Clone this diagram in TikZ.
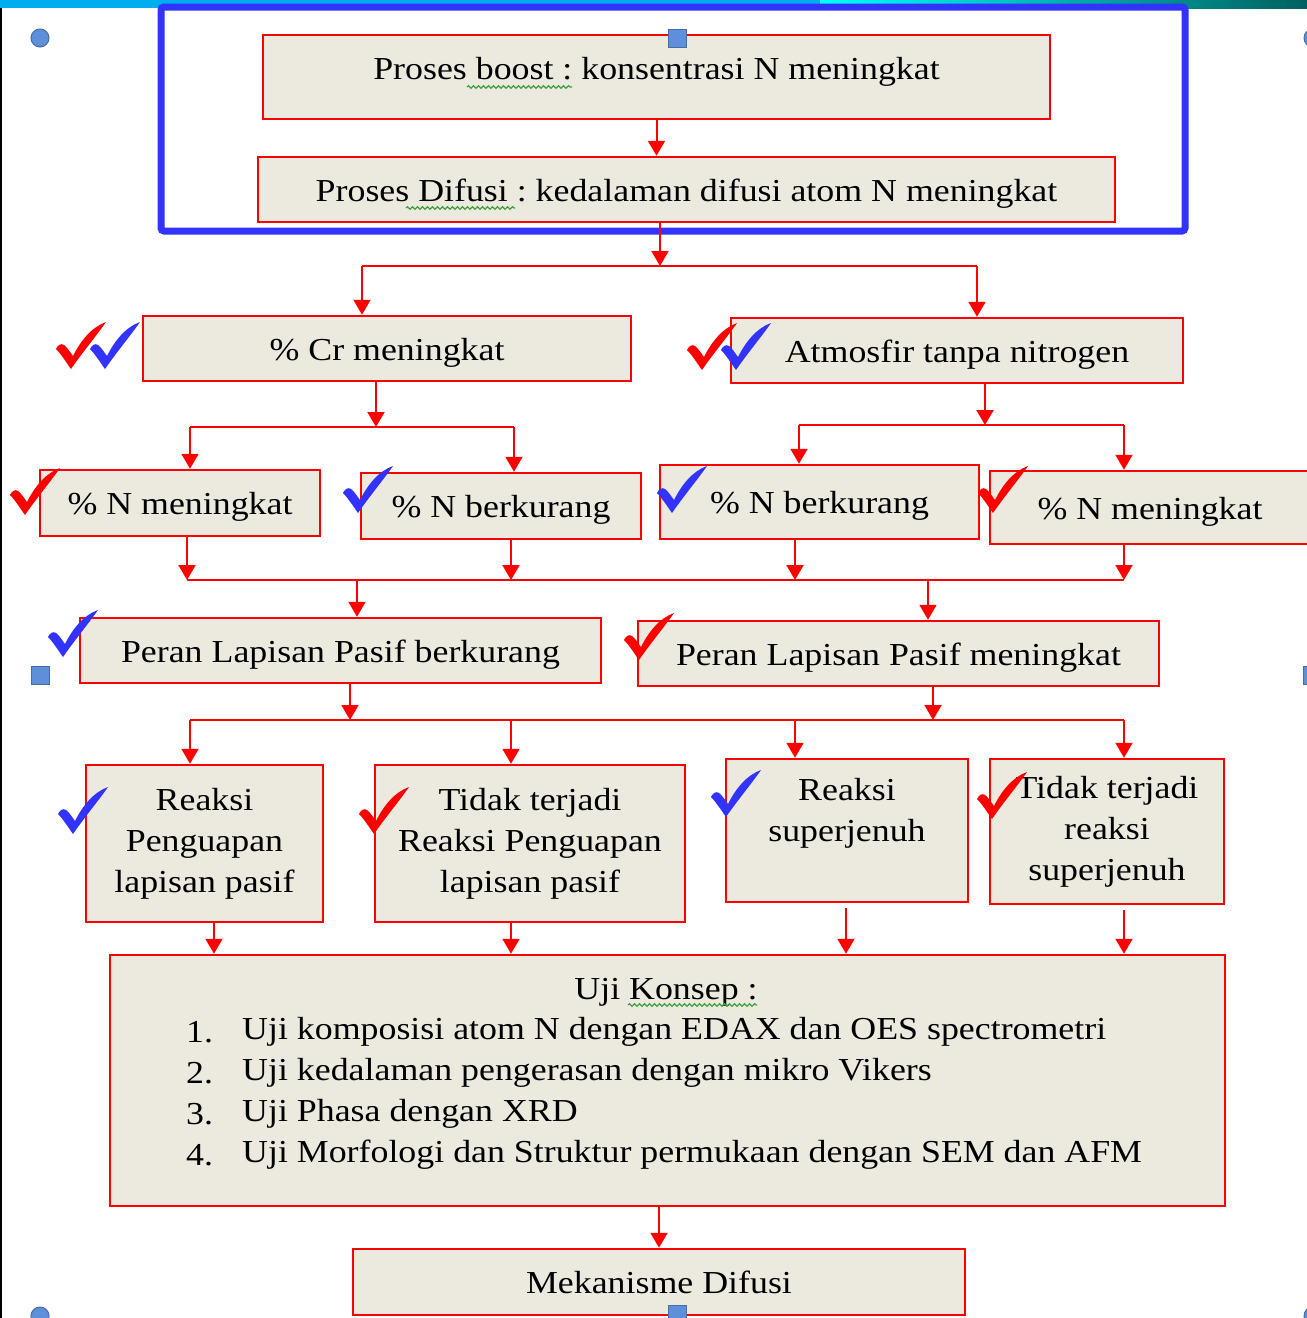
\documentclass[tikz,border=0pt]{standalone}
\usepackage{fontspec}
\setmainfont[FakeStretch=1.12]{Liberation Serif}
\usepackage{tikz}
\usetikzlibrary{arrows.meta, positioning, decorations.pathmorphing}
\frenchspacing

\definecolor{krem}{RGB}{236,233,223}
\definecolor{birubingkai}{RGB}{51,51,255}
\definecolor{birucentang}{RGB}{51,51,255}
\definecolor{pegangan}{RGB}{93,143,219}
\definecolor{pegangantepi}{RGB}{72,108,165}
\definecolor{hijaueja}{RGB}{60,160,60}
\definecolor{tosca}{RGB}{0,96,96}

% tanda centang: kiri-atas (#1,#2), warna #3
\newcommand{\centang}[3]{%
  \fill[#3, shift={(#1,#2)}] (0,27) .. controls (2,23) and (5,21) .. (8,23)
    .. controls (11,25) and (14,30) .. (17,34)
    .. controls (25,18) and (36,5) .. (50,0)
    .. controls (41,13) and (26,31) .. (15,47)
    .. controls (10,40) and (5,32) .. (0,27) -- cycle;}

\begin{document}
\begin{tikzpicture}[x=1pt, y=-1pt,
	kotak/.style={draw=red, line width=2.5pt, fill=krem, inner sep=0pt, align=center,
		font=\fontsize{32}{41}\selectfont},
	satubaris/.style={kotak, text height=30pt, text depth=7pt},
	panah/.style={draw=red, line width=2pt, -{Triangle[width=17pt,length=15pt]}},
	garis/.style={draw=red, line width=2pt},
	teks/.style={inner sep=0pt, font=\fontsize{32}{41}\selectfont},
	eja/.style={hijaueja, line width=1.2pt, decorate, decoration={snake, segment length=5pt, amplitude=1.3pt}}]
	\useasboundingbox (0,0) rectangle (1307,1318);
	\fill[white] (0,0) rectangle (1307,1318);
	
	% Tepi jendela
	\fill[cyan] (0,0) rectangle (820,8);
	\shade[left color=cyan, right color=tosca] (820,0) rectangle (1307,8);
	\fill[black] (0,8) rectangle (2,1318);
	
	% Bingkai biru
	\draw[birubingkai, line width=7pt, rounded corners=3pt] (161,7) rectangle (1185,231);
	
	% Kotak-kotak
	\node[satubaris, minimum width=787pt, minimum height=84pt] (boost) at (656.5,77)
		{\raisebox{9pt}[\height][\depth]{Proses boost : konsentrasi N meningkat}};
	\node[satubaris, minimum width=857pt, minimum height=65pt] (difusi) at (686.5,189.5)
		{Proses Difusi : kedalaman difusi atom N meningkat};
	\node[satubaris, minimum width=488pt, minimum height=65pt] (cr) at (387,348.5) {\% Cr meningkat};
	\node[satubaris, minimum width=452pt, minimum height=65pt] (atmosfir) at (957,350.5) {Atmosfir tanpa nitrogen};
	\node[satubaris, minimum width=280pt, minimum height=66pt] (nnaik1) at (180,503) {\% N meningkat};
	\node[satubaris, minimum width=280pt, minimum height=66pt] (nturun1) at (501,506) {\% N berkurang};
	\node[satubaris, minimum width=319pt, minimum height=74pt] (nturun2) at (819.5,502) {\% N berkurang};
	\node[satubaris, minimum width=320pt, minimum height=73pt] (nnaik2) at (1150,507.5) {\% N meningkat};
	\node[satubaris, minimum width=521pt, minimum height=65pt] (pasifturun) at (340.5,650.5) {Peran Lapisan Pasif berkurang};
	\node[satubaris, minimum width=521pt, minimum height=65pt] (pasifnaik) at (898.5,653.5) {Peran Lapisan Pasif meningkat};
	\node[kotak, minimum width=237pt, minimum height=157pt] (penguapan) at (204.5,843.5)
		{Reaksi\\Penguapan\\lapisan pasif};
	\node[kotak, minimum width=310pt, minimum height=157pt] (tanpauap) at (530,843.5)
		{Tidak terjadi\\Reaksi Penguapan\\lapisan pasif};
	\node[kotak, minimum width=242pt, minimum height=143pt] (jenuh) at (847,830.5)
		{Reaksi\\superjenuh\\~};
	\node[kotak, minimum width=234pt, minimum height=145pt] (tanpajenuh) at (1107,831.5)
		{Tidak terjadi\\reaksi\\superjenuh};
	\node[kotak, minimum width=1115pt, minimum height=251pt] (uji) at (667.5,1080.5) {};
	\node[satubaris, minimum width=612pt, minimum height=66pt] (mekanisme) at (659,1282) {Mekanisme Difusi};
	
	% Isi uji konsep
	\node[teks] (judul) at (666,992) {Uji Konsep :};
	\foreach \nomor/\isi in {1/Uji komposisi atom N dengan EDAX dan OES spectrometri,
		2/Uji kedalaman pengerasan dengan mikro Vikers,
		3/Uji Phasa dengan XRD,
		4/Uji Morfologi dan Struktur permukaan dengan SEM dan AFM} {
		\pgfmathsetmacro{\ypos}{991+41*\nomor}
		\node[teks, anchor=west] (no\nomor) at (186,\ypos) {\nomor.};
		\node[teks, anchor=west] (uji\nomor) at (242,\ypos) {\isi};
	}
	
	% Garis ejaan
	\draw[eja] (467,87) -- (572,87);
	\draw[eja] (406,208) -- (515,208);
	\draw[eja] (628,1005) -- (757,1005);
	
	% Titik-titik cabang
	\coordinate (c1) at (660,266);
	\coordinate (c1l) at (362,266);
	\coordinate (c1r) at (977,266);
	\coordinate (c2) at (376,427);
	\coordinate (c2l) at (190,427);
	\coordinate (c2r) at (514,427);
	\coordinate (c3) at (985,425);
	\coordinate (c3l) at (799,425);
	\coordinate (c3r) at (1124,425);
	\coordinate (e1) at (187,580);
	\coordinate (e2) at (511,580);
	\coordinate (e3) at (795,580);
	\coordinate (e4) at (1124,580);
	\coordinate (e5) at (357,580);
	\coordinate (e6) at (928,580);
	\coordinate (f1) at (350,720);
	\coordinate (f2) at (933,720);
	\coordinate (f3) at (190,720);
	\coordinate (f4) at (511,720);
	\coordinate (f5) at (795,720);
	\coordinate (f6) at (1124,720);
	\coordinate (u1) at (214,955);
	\coordinate (u2) at (511,955);
	\coordinate (s3) at (846,908);
	\coordinate (s4) at (1124,910);
	
	% Panah
	\draw[panah] (boost.south) -- (boost.south |- difusi.north);
	\draw[panah] (difusi.south -| c1) -- (c1);
	\draw[garis] (c1l) -- (c1r);
	\draw[panah] (c1l) -- (c1l |- cr.north);
	\draw[panah] (c1r) -- (c1r |- atmosfir.north);
	
	\draw[panah] (cr.south -| c2) -- (c2);
	\draw[garis] (c2l) -- (c2r);
	\draw[panah] (c2l) -- (c2l |- nnaik1.north);
	\draw[panah] (c2r) -- (c2r |- nturun1.north);
	
	\draw[panah] (atmosfir.south -| c3) -- (c3);
	\draw[garis] (c3l) -- (c3r);
	\draw[panah] (c3l) -- (c3l |- nturun2.north);
	\draw[panah] (c3r) -- (c3r |- nnaik2.north);
	
	\draw[panah] (nnaik1.south -| e1) -- (e1);
	\draw[panah] (nturun1.south -| e2) -- (e2);
	\draw[panah] (nturun2.south -| e3) -- (e3);
	\draw[panah] (nnaik2.south -| e4) -- (e4);
	\draw[garis] (e1) -- (e4);
	\draw[panah] (e5) -- (e5 |- pasifturun.north);
	\draw[panah] (e6) -- (e6 |- pasifnaik.north);
	
	\draw[panah] (pasifturun.south -| f1) -- (f1);
	\draw[panah] (pasifnaik.south -| f2) -- (f2);
	\draw[garis] (f3) -- (f6);
	\draw[panah] (f3) -- (f3 |- penguapan.north);
	\draw[panah] (f4) -- (f4 |- tanpauap.north);
	\draw[panah] (f5) -- (f5 |- jenuh.north);
	\draw[panah] (f6) -- (f6 |- tanpajenuh.north);
	
	\draw[panah] (penguapan.south -| u1) -- (uji.north -| u1);
	\draw[panah] (tanpauap.south -| u2) -- (uji.north -| u2);
	\draw[panah] (s3) -- (uji.north -| s3);
	\draw[panah] (s4) -- (uji.north -| s4);
	\draw[panah] (uji.south -| mekanisme.north) -- (mekanisme.north);
	
	% Tanda centang
	\centang{56}{322}{red}
	\centang{90}{322}{birucentang}
	\centang{687}{323}{red}
	\centang{721}{323}{birucentang}
	\centang{10}{468}{red}
	\centang{343}{466}{birucentang}
	\centang{657}{466}{birucentang}
	\centang{978}{466}{red}
	\centang{48}{610}{birucentang}
	\centang{624}{613}{red}
	\centang{58}{787}{birucentang}
	\centang{359}{787}{red}
	\centang{711}{770}{birucentang}
	\centang{977}{772}{red}
	
	% Pegangan seleksi
	\filldraw[fill=pegangan, draw=pegangantepi, line width=1pt] (40,38) circle[radius=9pt];
	\filldraw[fill=pegangan, draw=pegangantepi, line width=1pt] (1313,38) circle[radius=9pt];
	\filldraw[fill=pegangan, draw=pegangantepi, line width=1pt] (40,1316) circle[radius=9pt];
	\filldraw[fill=pegangan, draw=pegangantepi, line width=1pt] (1313,1316) circle[radius=9pt];
	\filldraw[fill=pegangan, draw=pegangantepi, line width=1pt] (668,29) rectangle (686,47);
	\filldraw[fill=pegangan, draw=pegangantepi, line width=1pt] (31,666) rectangle (49,684);
	\filldraw[fill=pegangan, draw=pegangantepi, line width=1pt] (1303,666) rectangle (1321,684);
	\filldraw[fill=pegangan, draw=pegangantepi, line width=1pt] (668,1305) rectangle (686,1323);
\end{tikzpicture}
\end{document}
